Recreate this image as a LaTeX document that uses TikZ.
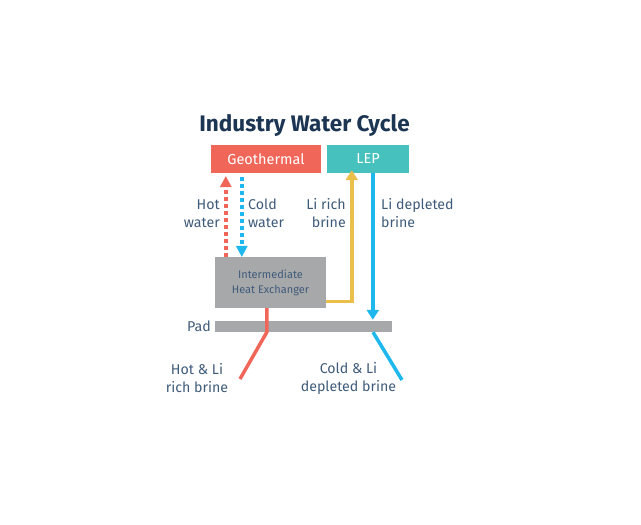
\documentclass[tikz,border=0pt]{standalone}
\usepackage{fontspec}
\setmainfont{Fira Sans}
\usetikzlibrary{arrows.meta,calc}
\definecolor{coral}{HTML}{F0675A}
\definecolor{tealc}{HTML}{47C1BD}
\definecolor{grayc}{HTML}{A7A8AA}
\definecolor{yellowc}{HTML}{EBC04A}
\definecolor{bluec}{HTML}{1EB8EE}
\definecolor{txt}{HTML}{3F5B7A}
\definecolor{titlec}{HTML}{1B3553}
\tikzset{
  box/.style={draw=none, inner sep=0pt, text=white, font=\fontsize{14.5}{16}\selectfont},
  lbl/.style={text=txt, inner sep=0pt, font=\fontsize{14.2}{18}\selectfont},
  flow/.style={line width=3.5pt},
  dots/.style={line width=4pt, dash pattern=on 4pt off 3pt},
  tip/.style={-{Triangle[width=12pt,length=10pt]}}
}
\begin{document}
\begin{tikzpicture}[x=1pt,y=-1pt]
\useasboundingbox (0,0) rectangle (641,525);
\node[font=\fontsize{22.5}{26}\selectfont\bfseries, text=titlec, inner sep=0pt] (title) at (304.5,125) {Industry Water Cycle};
\node[box, fill=coral, minimum width=110pt, minimum height=28pt] (geo) at (266,159) {Geothermal};
\node[box, fill=tealc, minimum width=82pt, minimum height=28pt] (lep) at (368,159) {LEP};
\node[box, fill=grayc, minimum width=111pt, minimum height=51pt, text=txt, align=center, font=\fontsize{11}{15}\selectfont] (ihx) at (270.5,282.5) {Intermediate\\Heat Exchanger};
\node[fill=grayc, inner sep=0pt, minimum width=177pt, minimum height=11pt] (pad) at (303.5,326.5) {};
% labels
\node[lbl, anchor=east, align=right] (hotw) at (220,213.5) {Hot\\water};
\node[lbl, anchor=west, align=left] (coldw) at (248,213.5) {Cold\\water};
\node[lbl, anchor=east, align=right] (lirich) at (346,213.5) {Li rich\\brine};
\node[lbl, anchor=west, align=left] (lidep) at (381,213.5) {Li depleted\\brine};
\node[lbl, anchor=east] (padl) at (211,326) {Pad};
\node[lbl, align=center] (hotli) at (197,378.5) {Hot \& Li\\rich brine};
\node[lbl, align=center] (coldli) at (348.5,378.5) {Cold \& Li\\depleted brine};
% coordinates
\coordinate (rb) at ($(ihx.south west)+(52,0)$);
\coordinate (rbpad) at (rb |- pad.south);
\coordinate (rbend) at (240,379);
\coordinate (bbpad) at (373,0 |- pad.south);
\coordinate (bbend) at (402,380);
% hot water (dotted red, up)
\draw[dots, coral] ($(ihx.north west)+(11,0)$) -- ($(geo.south west)+(15,12)$);
\fill[coral] ($(geo.south west)+(15,3)$) -- ++(-6,11) -- ++(12,0) -- cycle;
% cold water (dotted blue, down)
\draw[dots, bluec] ($(geo.south west)+(31,4)$) -- ($(ihx.north west)+(27,-11)$);
\fill[bluec] ($(ihx.north west)+(27,0)$) -- ++(-6,-11) -- ++(12,0) -- cycle;
% Li rich brine
\draw[flow, yellowc, tip] ($(ihx.east)+(0,19)$) -| ($(lep.south west)+(25,-3)$);
% Li depleted brine
\draw[flow, bluec, tip] ($(lep.south west)+(46,0)$) -- ($(pad.north west)+(158,-1)$);
% outflows
\draw[flow, coral] (ihx.south -| rb) -- (rbpad) -- (rbend);
\draw[flow, bluec] (bbpad) -- (bbend);
\end{tikzpicture}
\end{document}
